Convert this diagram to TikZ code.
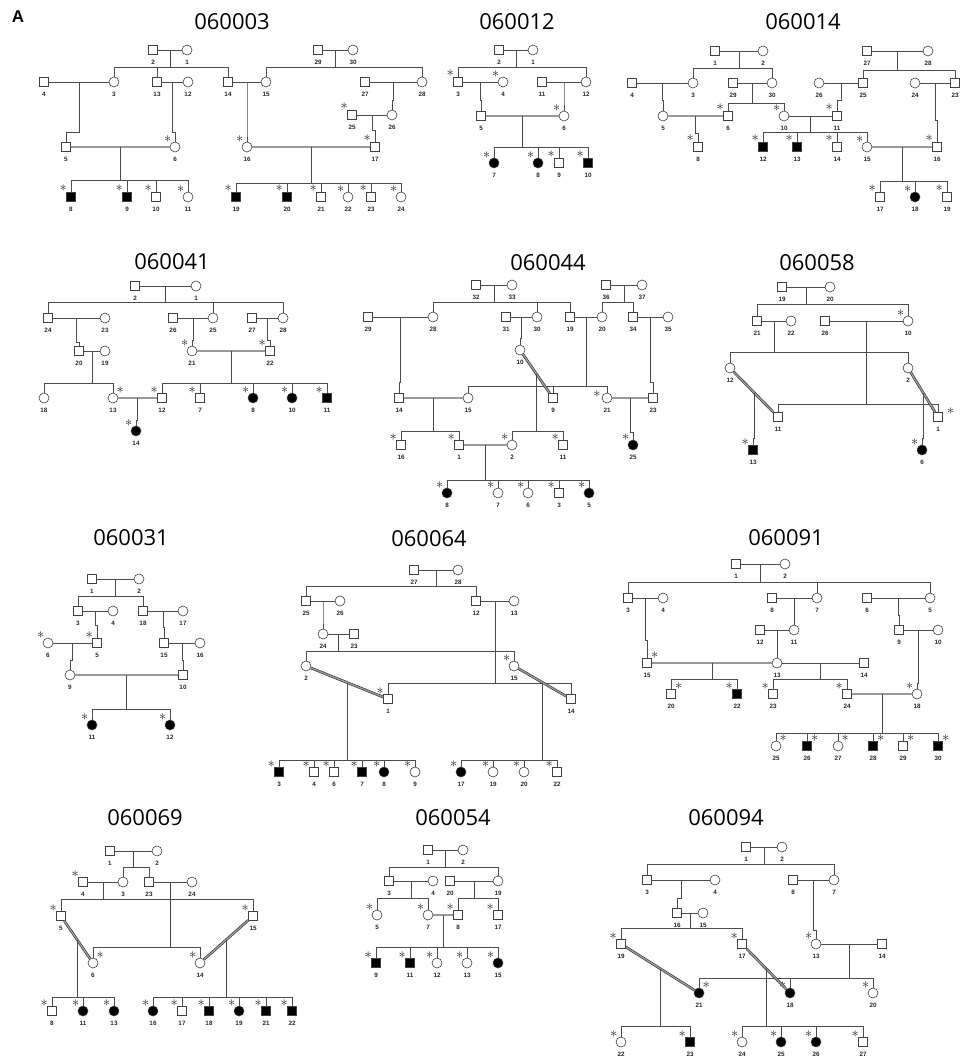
\documentclass[tikz,border=0pt]{standalone}
\usepackage{fontspec}
\setmainfont{Liberation Sans}
\newfontfamily\titlefont{Open Sans}
\usetikzlibrary{calc}

% symbols, lines and texts of the pedigrees
\tikzset{
  rel/.style={draw=black!70, line width=0.6pt},
  cons/.style={draw=black!80, line width=0.6pt, double=black!40, double distance=1.4pt},
  male/.style={draw=black!75, line width=0.6pt, rectangle, minimum size=9pt, inner sep=0pt, fill=white},
  fem/.style={draw=black!75, line width=0.6pt, circle, minimum size=10pt, inner sep=0pt, fill=white},
  amale/.style={male, fill=black},
  afem/.style={fem, fill=black},
  idno/.style={font=\bfseries\fontsize{6.3}{6.3}\selectfont, inner sep=0.5pt, text=black!85, label distance=4.5pt},
  ast/.style={font=\fontsize{15}{15}\selectfont, inner sep=0pt, text=black!85, label distance=0pt},
  tst/.style={label={[ast]130:$\ast$}},
  tstr/.style={label={[ast]50:$\ast$}},
  tstl/.style={label={[ast, label distance=1pt]175:$\ast$}},
  tstR/.style={label={[ast, label distance=4pt]15:$\ast$}},
  ttl/.style={font=\titlefont\fontsize{22}{22}\selectfont, inner sep=0pt}
}

\newcommand\ind[4]{\node[#1, label={[idno]below:#4}] (#2) at (#3) {};}
\newcommand\couple[3]{\draw[rel] (#1) -- (#2); \coordinate (#3) at ($(#1)!.5!(#2)$);}
\newcommand\ccouple[3]{\draw[cons] (#1) -- (#2); \coordinate (#3) at ($(#1)!.5!(#2)$);}
\newcommand\sib[5]{%
  \draw[rel] (#1) -- (#1 |- 0,#2);
  \draw[rel] (#3 |- 0,#2) -- (#4 |- 0,#2);
  \foreach \c in {#5} \draw[rel] (\c.north) -- (\c |- 0,#2);}
\newcommand\jog[3]{\draw[rel] (#1) |- (#2 |- 0,#3) -- (#2.north);}

\begin{document}
\begin{tikzpicture}[x=1pt, y=-1pt]
\useasboundingbox (0,0) rectangle (960,1064);

\node[font=\bfseries\fontsize{17}{17}\selectfont, inner sep=0pt] (panel) at (18,17) {A};

% 060003
\node[ttl] (tA) at (232,22) {060003};
\ind{male}{A2}{153,50}{2}
\ind{fem}{A1}{187,50}{1}
\ind{male}{A29}{318,50}{29}
\ind{fem}{A30}{353,50}{30}
\ind{male}{A4}{44,82}{4}
\ind{fem}{A3}{114,82}{3}
\ind{male}{A13}{157,82}{13}
\ind{fem}{A12}{188,82}{12}
\ind{male}{A14}{228,82}{14}
\ind{fem}{A15}{266,82}{15}
\ind{male}{A27}{365,82}{27}
\ind{fem}{A28}{422,82}{28}
\ind{male,tst}{A25}{352,115}{25}
\ind{fem}{A26}{392,115}{26}
\ind{male}{A5}{66,147}{5}
\ind{fem,tst}{A6}{175,147}{6}
\ind{fem,tst}{A16}{247,147}{16}
\ind{male,tst}{A17}{375,147}{17}
\ind{amale,tst}{A8}{71,197}{8}
\ind{amale,tst}{A9}{127,197}{9}
\ind{male,tst}{A10}{156,197}{10}
\ind{fem,tst}{A11}{188,197}{11}
\ind{amale,tst}{A19}{236,197}{19}
\ind{amale,tst}{A20}{287,197}{20}
\ind{male,tst}{A21}{321,197}{21}
\ind{fem,tst}{A22}{348,197}{22}
\ind{male,tst}{A23}{371,197}{23}
\ind{fem,tst}{A24}{401,197}{24}
\couple{A2}{A1}{mA1} \sib{mA1}{67}{A3}{A14}{A3,A13,A14}
\couple{A29}{A30}{mA2} \sib{mA2}{67}{A15}{A28}{A15,A28}
\couple{A4}{A3}{mA3} \jog{mA3}{A5}{132}
\couple{A13}{A12}{mA4} \jog{mA4}{A6}{132}
\couple{A14}{A15}{mA5} \jog{mA5}{A16}{132}
\couple{A27}{A28}{mA6} \jog{mA6}{A26}{100}
\couple{A25}{A26}{mA7} \jog{mA7}{A17}{130}
\ccouple{A5}{A6}{mA8} \sib{mA8}{180}{A8}{A11}{A8,A9,A10,A11}
\ccouple{A16}{A17}{mA9} \sib{mA9}{183}{A19}{A24}{A19,A20,A21,A22,A23,A24}

% 060012
\node[ttl] (tB) at (517,22) {060012};
\ind{male}{B2}{499,50}{2}
\ind{fem}{B1}{533,50}{1}
\ind{male,tst}{B3}{458,82}{3}
\ind{fem,tst}{B4}{503,82}{4}
\ind{male}{B11}{542,82}{11}
\ind{fem}{B12}{586,82}{12}
\ind{male}{B5}{481,116}{5}
\ind{fem,tst}{B6}{564,116}{6}
\ind{afem,tst}{B7}{494,163}{7}
\ind{afem,tst}{B8}{538,163}{8}
\ind{male,tst}{B9}{559,163}{9}
\ind{amale,tst}{B10}{588,163}{10}
\couple{B2}{B1}{mB1} \sib{mB1}{67}{B3}{B12}{B3,B12}
\couple{B3}{B4}{mB2} \jog{mB2}{B5}{100}
\couple{B11}{B12}{mB3} \jog{mB3}{B6}{100}
\ccouple{B5}{B6}{mB4} \sib{mB4}{147}{B7}{B10}{B7,B8,B9,B10}

% 060014
\node[ttl] (tC) at (803,22) {060014};
\ind{male}{C1}{715,51}{1}
\ind{fem}{C2}{763,51}{2}
\ind{male}{C27}{867,51}{27}
\ind{fem}{C28}{928,51}{28}
\ind{male}{C4}{632,83}{4}
\ind{fem}{C3}{693,83}{3}
\ind{male}{C29}{733,83}{29}
\ind{fem}{C30}{772,83}{30}
\ind{fem}{C26}{819,83}{26}
\ind{male}{C25}{863,83}{25}
\ind{fem}{C24}{915,83}{24}
\ind{male}{C23}{955,83}{23}
\ind{fem}{C5}{663,116}{5}
\ind{male,tst}{C6}{728,116}{6}
\ind{fem,tst}{C10}{784,116}{10}
\ind{male,tst}{C11}{837,116}{11}
\ind{male,tst}{C8}{698,147}{8}
\ind{amale,tst}{C12}{763,147}{12}
\ind{amale,tst}{C13}{797,147}{13}
\ind{male,tst}{C14}{837,147}{14}
\ind{fem,tst}{C15}{867,147}{15}
\ind{male,tst}{C16}{937,147}{16}
\ind{male,tst}{C17}{880,197}{17}
\ind{afem,tst}{C18}{915,197}{18}
\ind{male,tst}{C19}{947,197}{19}
\couple{C1}{C2}{mC1} \sib{mC1}{68}{C3}{C30}{C3,C30}
\couple{C27}{C28}{mC2} \sib{mC2}{70}{C25}{C23}{C25,C23}
\couple{C4}{C3}{mC3} \jog{mC3}{C5}{100}
\couple{C29}{C30}{mC4} \sib{mC4}{103}{C6}{C10}{C6,C10}
\couple{C26}{C25}{mC5} \jog{mC5}{C11}{100}
\ccouple{C5}{C6}{mC6} \jog{mC6}{C8}{133}
\couple{C10}{C11}{mC7} \sib{mC7}{132}{C12}{C15}{C12,C13,C14,C15}
\couple{C24}{C23}{mC8} \jog{mC8}{C16}{120}
\ccouple{C15}{C16}{mC9} \sib{mC9}{181}{C17}{C19}{C17,C18,C19}

% 060041
\node[ttl] (tD) at (172,262) {060041};
\ind{male}{D2}{135,286}{2}
\ind{fem}{D1}{196,286}{1}
\ind{male}{D24}{48,318}{24}
\ind{fem}{D23}{105,318}{23}
\ind{male}{D26}{173,318}{26}
\ind{fem}{D25}{213,318}{25}
\ind{male}{D27}{252,318}{27}
\ind{fem}{D28}{283,318}{28}
\ind{male}{D20}{79,351}{20}
\ind{fem}{D19}{105,351}{19}
\ind{fem,tst}{D21}{192,351}{21}
\ind{male,tst}{D22}{270,351}{22}
\ind{fem}{D18}{44,398}{18}
\ind{fem,tstr}{D13}{113,398}{13}
\ind{male,tst}{D12}{162,398}{12}
\ind{male,tst}{D7}{200,398}{7}
\ind{afem,tst}{D8}{253,398}{8}
\ind{afem,tst}{D10}{292,398}{10}
\ind{amale,tst}{D11}{327,398}{11}
\ind{afem,tst}{D14}{136,431}{14}
\couple{D2}{D1}{mD1} \sib{mD1}{302}{D24}{D28}{D24,D25,D28}
\couple{D24}{D23}{mD2} \jog{mD2}{D20}{342}
\couple{D26}{D25}{mD3} \jog{mD3}{D21}{340}
\couple{D27}{D28}{mD4} \jog{mD4}{D22}{340}
\couple{D20}{D19}{mD5} \sib{mD5}{383}{D18}{D13}{D18,D13}
\ccouple{D21}{D22}{mD6} \sib{mD6}{383}{D12}{D11}{D12,D7,D8,D10,D11}
\ccouple{D13}{D12}{mD7} \jog{mD7}{D14}{420}

% 060044
\node[ttl] (tE) at (548,263) {060044};
\ind{male}{E32}{476,285}{32}
\ind{fem}{E33}{512,285}{33}
\ind{male}{E36}{606,285}{36}
\ind{fem}{E37}{642,285}{37}
\ind{male}{E29}{368,317}{29}
\ind{fem}{E28}{433,317}{28}
\ind{male}{E31}{506,317}{31}
\ind{fem}{E30}{537,317}{30}
\ind{male}{E19}{570,317}{19}
\ind{fem}{E20}{602,317}{20}
\ind{male}{E34}{633,317}{34}
\ind{fem}{E35}{668,317}{35}
\ind{fem}{E10}{520,350}{10}
\ind{male}{E14}{399,398}{14}
\ind{fem}{E15}{468,398}{15}
\ind{male}{E9}{553,398}{9}
\ind{fem,tstl}{E21}{607,398}{21}
\ind{male}{E23}{653,398}{23}
\ind{male,tst}{E16}{401,445}{16}
\ind{male,tst}{E1}{459,445}{1}
\ind{fem,tst}{E2}{512,445}{2}
\ind{male,tst}{E11}{563,445}{11}
\ind{afem,tst}{E25}{633,445}{25}
\ind{afem,tst}{E8}{447,493}{8}
\ind{fem,tst}{E7}{498,493}{7}
\ind{fem,tst}{E6}{528,493}{6}
\ind{male,tst}{E3}{559,493}{3}
\ind{afem,tst}{E5}{589,493}{5}
\couple{E32}{E33}{mE1} \sib{mE1}{302}{E28}{E19}{E28,E30,E19}
\couple{E36}{E37}{mE2} \sib{mE2}{302}{E20}{E34}{E20,E34}
\couple{E29}{E28}{mE3} \jog{mE3}{E14}{382}
\couple{E31}{E30}{mE4} \jog{mE4}{E10}{338}
\couple{E19}{E20}{mE5} \sib{mE5}{386}{E15}{E21}{E15,E9,E21}
\couple{E34}{E35}{mE6} \jog{mE6}{E23}{382}
\ccouple{E10}{E9}{mE7} \sib{mE7}{431}{E2}{E11}{E2,E11}
\ccouple{E14}{E15}{mE8} \sib{mE8}{431}{E16}{E1}{E16,E1}
\ccouple{E21}{E23}{mE9} \jog{mE9}{E25}{432}
\ccouple{E1}{E2}{mE10} \sib{mE10}{480}{E8}{E5}{E8,E7,E6,E3,E5}

% 060058
\node[ttl] (tF) at (817,263) {060058};
\ind{male}{F19}{782,287}{19}
\ind{fem}{F20}{830,287}{20}
\ind{male}{F21}{757,321}{21}
\ind{fem}{F22}{791,321}{22}
\ind{male}{F26}{825,321}{26}
\ind{fem,tst}{F10}{908,321}{10}
\ind{fem}{F12}{730,368}{12}
\ind{fem}{F2}{908,368}{2}
\ind{male}{F11}{778,417}{11}
\ind{male,tstR}{F1}{938,417}{1}
\ind{amale,tst}{F13}{753,450}{13}
\ind{afem,tst}{F6}{922,450}{6}
\couple{F19}{F20}{mF1} \sib{mF1}{304}{F21}{F10}{F21,F10}
\couple{F21}{F22}{mF2} \sib{mF2}{352}{F12}{F2}{F12,F2}
\couple{F26}{F10}{mF3} \sib{mF3}{404}{F11}{F1}{F11,F1}
\ccouple{F12}{F11}{mF4} \jog{mF4}{F13}{438}
\ccouple{F2}{F1}{mF5} \jog{mF5}{F6}{438}

% 060031
\node[ttl] (tG) at (131,538) {060031};
\ind{male}{G1}{92,579}{1}
\ind{fem}{G2}{139,579}{2}
\ind{male}{G3}{78,611}{3}
\ind{fem}{G4}{113,611}{4}
\ind{male}{G18}{143,611}{18}
\ind{fem}{G17}{183,611}{17}
\ind{fem,tst}{G6}{48,643}{6}
\ind{male,tst}{G5}{97,643}{5}
\ind{male}{G15}{164,643}{15}
\ind{fem}{G16}{200,643}{16}
\ind{fem}{G9}{70,675}{9}
\ind{male}{G10}{183,675}{10}
\ind{afem,tst}{G11}{92,725}{11}
\ind{afem,tst}{G12}{170,725}{12}
\couple{G1}{G2}{mG1} \sib{mG1}{596}{G3}{G18}{G3,G18}
\couple{G3}{G4}{mG2} \jog{mG2}{G5}{625}
\couple{G18}{G17}{mG3} \jog{mG3}{G15}{627}
\couple{G6}{G5}{mG4} \jog{mG4}{G9}{660}
\couple{G15}{G16}{mG5} \jog{mG5}{G10}{660}
\ccouple{G9}{G10}{mG6} \sib{mG6}{709}{G11}{G12}{G11,G12}

% 060064
\node[ttl] (tH) at (429,539) {060064};
\ind{male}{H27}{414,570}{27}
\ind{fem}{H28}{458,570}{28}
\ind{male}{H25}{306,601}{25}
\ind{fem}{H26}{340,601}{26}
\ind{male}{H12}{476,601}{12}
\ind{fem}{H13}{514,601}{13}
\ind{fem}{H24}{323,634}{24}
\ind{male}{H23}{354,634}{23}
\ind{fem}{H2}{306,666}{2}
\ind{fem,tst}{H15}{514,666}{15}
\ind{male,tst}{H1}{388,699}{1}
\ind{male}{H14}{571,699}{14}
\ind{amale,tst}{H3}{279,772}{3}
\ind{male,tst}{H4}{314,772}{4}
\ind{male,tst}{H6}{334,772}{6}
\ind{amale,tst}{H7}{362,772}{7}
\ind{afem,tst}{H8}{384,772}{8}
\ind{fem,tst}{H9}{415,772}{9}
\ind{afem,tst}{H17}{461,772}{17}
\ind{fem,tst}{H19}{493,772}{19}
\ind{fem,tst}{H20}{524,772}{20}
\ind{male,tst}{H22}{557,772}{22}
\couple{H27}{H28}{mH1} \sib{mH1}{586}{H25}{H12}{H25,H12}
\couple{H25}{H26}{mH2} \jog{mH2}{H24}{620}
\couple{H24}{H23}{mH3} \sib{mH3}{651}{H2}{H15}{H2,H15}
\couple{H12}{H13}{mH4} \sib{mH4}{683}{H1}{H14}{H1,H14}
\ccouple{H2}{H1}{mH5} \sib{mH5}{760}{H3}{H9}{H3,H4,H6,H7,H8,H9}
\ccouple{H15}{H14}{mH6} \sib{mH6}{760}{H17}{H22}{H17,H19,H20,H22}

% 060091
\node[ttl] (tI) at (786,538) {060091};
\ind{male}{I1}{736,564}{1}
\ind{fem}{I2}{785,564}{2}
\ind{male}{I3}{628,598}{3}
\ind{fem}{I4}{663,598}{4}
\ind{male}{I8}{772,598}{8}
\ind{fem}{I7}{817,598}{7}
\ind{male}{I6}{867,598}{6}
\ind{fem}{I5}{930,598}{5}
\ind{male}{I12}{760,630}{12}
\ind{fem}{I11}{794,630}{11}
\ind{male}{I9}{899,630}{9}
\ind{fem}{I10}{938,630}{10}
\ind{male,tstr}{I15}{647,663}{15}
\ind{fem}{I13}{777,663}{13}
\ind{male}{I14}{864,663}{14}
\ind{male,tstr}{I20}{671,694}{20}
\ind{amale,tst}{I22}{737,694}{22}
\ind{male,tst}{I23}{773,694}{23}
\ind{male,tst}{I24}{847,694}{24}
\ind{fem,tst}{I18}{917,694}{18}
\ind{fem,tstr}{I25}{776,746}{25}
\ind{amale,tstr}{I26}{807,746}{26}
\ind{fem,tstr}{I27}{838,746}{27}
\ind{amale,tstr}{I28}{873,746}{28}
\ind{male,tstr}{I29}{903,746}{29}
\ind{amale,tstr}{I30}{938,746}{30}
\couple{I1}{I2}{mI1} \sib{mI1}{582}{I3}{I5}{I3,I7,I5}
\couple{I3}{I4}{mI2} \jog{mI2}{I15}{640}
\couple{I8}{I7}{mI3} \jog{mI3}{I11}{615}
\couple{I6}{I5}{mI4} \jog{mI4}{I9}{615}
\couple{I12}{I11}{mI5} \jog{mI5}{I13}{650}
\couple{I9}{I10}{mI6} \jog{mI6}{I18}{683}
\ccouple{I15}{I13}{mI7} \sib{mI7}{679}{I20}{I22}{I20,I22}
\couple{I13}{I14}{mI8} \sib{mI8}{679}{I23}{I24}{I23,I24}
\ccouple{I24}{I18}{mI9} \sib{mI9}{733}{I25}{I30}{I25,I26,I27,I28,I29,I30}

% 060069
\node[ttl] (tJ) at (145,818) {060069};
\ind{male}{J1}{110,851}{1}
\ind{fem}{J2}{157,851}{2}
\ind{male,tst}{J4}{83,882}{4}
\ind{fem}{J3}{123,882}{3}
\ind{male}{J23}{149,882}{23}
\ind{fem}{J24}{192,882}{24}
\ind{male,tst}{J5}{61,916}{5}
\ind{male,tst}{J15}{253,916}{15}
\ind{fem,tstr}{J6}{93,963}{6}
\ind{fem,tst}{J14}{200,963}{14}
\ind{male,tst}{J8}{52,1011}{8}
\ind{afem,tst}{J11}{83,1011}{11}
\ind{afem,tst}{J13}{114,1011}{13}
\ind{afem,tst}{J16}{153,1011}{16}
\ind{male,tst}{J17}{182,1011}{17}
\ind{amale,tst}{J18}{209,1011}{18}
\ind{afem,tst}{J19}{239,1011}{19}
\ind{amale,tst}{J21}{266,1011}{21}
\ind{amale,tst}{J22}{292,1011}{22}
\couple{J1}{J2}{mJ1} \sib{mJ1}{867}{J3}{J23}{J3,J23}
\couple{J4}{J3}{mJ2} \sib{mJ2}{899}{J5}{J15}{J5,J15}
\couple{J23}{J24}{mJ3} \sib{mJ3}{947}{J6}{J14}{J6,J14}
\ccouple{J5}{J6}{mJ4} \sib{mJ4}{997}{J8}{J13}{J8,J11,J13}
\ccouple{J15}{J14}{mJ5} \sib{mJ5}{997}{J16}{J22}{J16,J17,J18,J19,J21,J22}

% 060054
\node[ttl] (tK) at (453,818) {060054};
\ind{male}{K1}{428,850}{1}
\ind{fem}{K2}{463,850}{2}
\ind{male}{K3}{389,881}{3}
\ind{fem}{K4}{433,881}{4}
\ind{male}{K20}{450,881}{20}
\ind{fem}{K19}{498,881}{19}
\ind{fem,tst}{K5}{377,915}{5}
\ind{fem,tst}{K7}{428,915}{7}
\ind{male,tst}{K8}{458,915}{8}
\ind{male,tst}{K17}{498,915}{17}
\ind{amale,tst}{K9}{376,963}{9}
\ind{amale,tst}{K11}{410,963}{11}
\ind{fem,tst}{K12}{437,963}{12}
\ind{fem,tst}{K13}{467,963}{13}
\ind{afem,tst}{K15}{498,963}{15}
\couple{K1}{K2}{mK1} \sib{mK1}{867}{K3}{K19}{K3,K19}
\couple{K3}{K4}{mK2} \sib{mK2}{898}{K5}{K7}{K5,K7}
\couple{K20}{K19}{mK3} \sib{mK3}{898}{K8}{K17}{K8,K17}
\ccouple{K7}{K8}{mK4} \sib{mK4}{947}{K9}{K15}{K9,K11,K12,K13,K15}

% 060094
\node[ttl] (tL) at (726,818) {060094};
\ind{male}{L1}{746,847}{1}
\ind{fem}{L2}{782,847}{2}
\ind{male}{L3}{647,880}{3}
\ind{fem}{L4}{715,880}{4}
\ind{male}{L8}{793,880}{8}
\ind{fem}{L7}{834,880}{7}
\ind{male}{L16}{677,913}{16}
\ind{fem}{L15}{703,913}{15}
\ind{male,tst}{L19}{621,944}{19}
\ind{male,tst}{L17}{742,944}{17}
\ind{fem,tst}{L13}{816,944}{13}
\ind{male}{L14}{882,944}{14}
\ind{afem,tstr}{L21}{699,993}{21}
\ind{afem,tst}{L18}{790,993}{18}
\ind{fem,tst}{L20}{873,993}{20}
\ind{fem,tst}{L22}{621,1042}{22}
\ind{amale,tst}{L23}{690,1042}{23}
\ind{fem,tst}{L24}{742,1042}{24}
\ind{afem,tst}{L25}{781,1042}{25}
\ind{afem,tst}{L26}{816,1042}{26}
\ind{male,tst}{L27}{863,1042}{27}
\couple{L1}{L2}{mL1} \sib{mL1}{864}{L3}{L7}{L3,L7}
\couple{L3}{L4}{mL2} \jog{mL2}{L16}{898}
\couple{L8}{L7}{mL3} \jog{mL3}{L13}{930}
\couple{L16}{L15}{mL4} \sib{mL4}{928}{L19}{L17}{L19,L17}
\couple{L13}{L14}{mL5} \sib{mL5}{978}{L21}{L20}{L21,L18,L20}
\ccouple{L19}{L21}{mL6} \sib{mL6}{1026}{L22}{L23}{L22,L23}
\ccouple{L17}{L18}{mL7} \sib{mL7}{1026}{L24}{L27}{L24,L25,L26,L27}

\end{tikzpicture}
\end{document}
